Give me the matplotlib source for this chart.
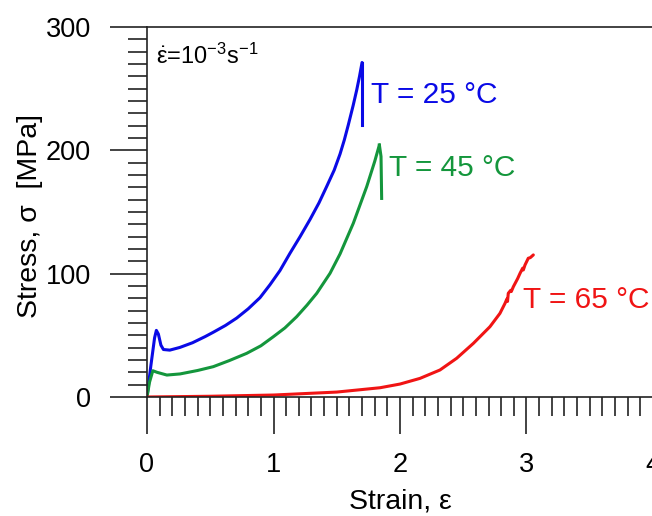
import matplotlib
matplotlib.use("Agg")
import matplotlib.pyplot as plt
from matplotlib.ticker import MultipleLocator

plt.rcParams['font.family'] = ['Liberation Sans', 'DejaVu Sans']
plt.rcParams['mathtext.fontset'] = 'custom'
plt.rcParams['mathtext.rm'] = 'Liberation Sans'
plt.rcParams['mathtext.it'] = 'Liberation Sans'

# Stress-strain curves at a strain rate of 1e-3 1/s
strain_25 = [0.0, 0.03, 0.06, 0.074, 0.09, 0.11, 0.13, 0.18, 0.26, 0.36, 0.46, 0.524, 0.62,
             0.709, 0.80, 0.893, 0.972, 1.051, 1.13, 1.21, 1.289, 1.36, 1.42, 1.48, 1.526,
             1.56, 1.591, 1.63, 1.658, 1.68, 1.70]
stress_25 = [0.0, 25.0, 48.0, 54.0, 51.0, 42.0, 38.5, 38.0, 40.2, 44.0, 49.0, 52.5, 58.0,
             64.0, 71.5, 80.5, 91.0, 102.5, 116.5, 130.0, 144.0, 157.5, 170.6, 184.0, 197.0,
             208.5, 220.5, 236.5, 249.0, 260.0, 271.2]
drop_25_strain = [1.70, 1.70]
drop_25_stress = [271.2, 220.6]

strain_45 = [0.0, 0.02, 0.046, 0.08, 0.157, 0.261, 0.40, 0.524, 0.65, 0.788, 0.90, 0.999,
             1.09, 1.183, 1.265, 1.342, 1.447, 1.526, 1.631, 1.737, 1.80, 1.837]
stress_45 = [0.0, 12.0, 21.3, 20.0, 17.8, 18.7, 21.5, 24.6, 29.5, 35.4, 41.5, 48.9,
             56.0, 65.1, 74.5, 84.1, 100.3, 116.0, 140.9, 170.6, 191.0, 204.4]
drop_45_strain = [1.837, 1.85, 1.855]
drop_45_stress = [204.4, 195.0, 161.0]

strain_65 = [0.0, 0.5, 1.0, 1.5, 1.842, 2.0, 2.158, 2.316, 2.448, 2.58, 2.711, 2.79, 2.83,
             2.845, 2.85, 2.856, 2.875, 2.88, 2.896, 2.93, 2.949, 2.97, 2.975, 2.988, 3.014,
             3.03, 3.054]
stress_65 = [0.0, 0.6, 1.6, 4.0, 7.5, 10.5, 15.1, 21.9, 31.4, 43.5, 57.0, 67.8, 75.9,
             79.5, 77.5, 84.1, 86.5, 85.5, 89.4, 96.0, 100.3, 104.5, 103.0, 107.0, 112.5,
             113.0, 115.2]

labels = ["T = 25 \u00b0C", "T = 45 \u00b0C", "T = 65 \u00b0C"]
label_pos = [(1.77, 245), (1.91, 186), (2.97, 79)]

c25, c45, c65 = "#0a0ae6", "#14963c", "#f01414"

fig = plt.figure(figsize=(6.52, 5.16), dpi=100)
ax = fig.add_axes([147 / 652, (516 - 397) / 516, 506 / 652, 370 / 516])

px = 72 / 100  # points per pixel at 100 dpi
lw = 2.2
ax.plot(strain_25, stress_25, color=c25, lw=lw, solid_capstyle='round', solid_joinstyle='round')
ax.plot(drop_25_strain, drop_25_stress, color=c25, lw=lw)
ax.plot(strain_45, stress_45, color=c45, lw=lw, solid_capstyle='round', solid_joinstyle='round')
ax.plot(drop_45_strain, drop_45_stress, color=c45, lw=lw)
ax.plot(strain_65, stress_65, color=c65, lw=lw, solid_capstyle='round', solid_joinstyle='round')

for txt, (x, y), c in zip(labels, label_pos, [c25, c45, c65]):
    ax.text(x, y, txt, color=c, fontsize=21.5, va='center', ha='left')

ax.text(0.075, 276, r'$\dot{\varepsilon}$=10$^{-3}$s$^{-1}$', fontsize=17,
        va='center', ha='left', color='black')

ax.set_xlim(0, 4)
ax.set_ylim(0, 300)
ax.spines['right'].set_visible(False)
for s in ['left', 'bottom', 'top']:
    ax.spines[s].set_linewidth(1.2)
    ax.spines[s].set_color('#222222')

ax.xaxis.set_major_locator(MultipleLocator(1))
ax.xaxis.set_minor_locator(MultipleLocator(0.1))
ax.yaxis.set_major_locator(MultipleLocator(100))
ax.yaxis.set_minor_locator(MultipleLocator(10))
ax.tick_params(axis='both', which='major', direction='out', length=37 * px, width=1.2,
               color='#222222', labelsize=19.5)
ax.tick_params(axis='both', which='minor', direction='out', length=19 * px, width=1.2,
               color='#222222')
ax.tick_params(axis='x', which='major', pad=18 * px)
ax.tick_params(axis='y', which='major', pad=19 * px)

ax.set_xlabel("Strain, \u03b5", fontsize=20.5)
ax.set_ylabel("Stress, \u03c3  [MPa]", fontsize=20.5)
ax.xaxis.set_label_coords(0.5, -(488 - 397) / 370)
ax.yaxis.set_label_coords(-(147 - 43) / 506, (397 - 216) / 370)

fig.savefig("out.png", dpi=100)
